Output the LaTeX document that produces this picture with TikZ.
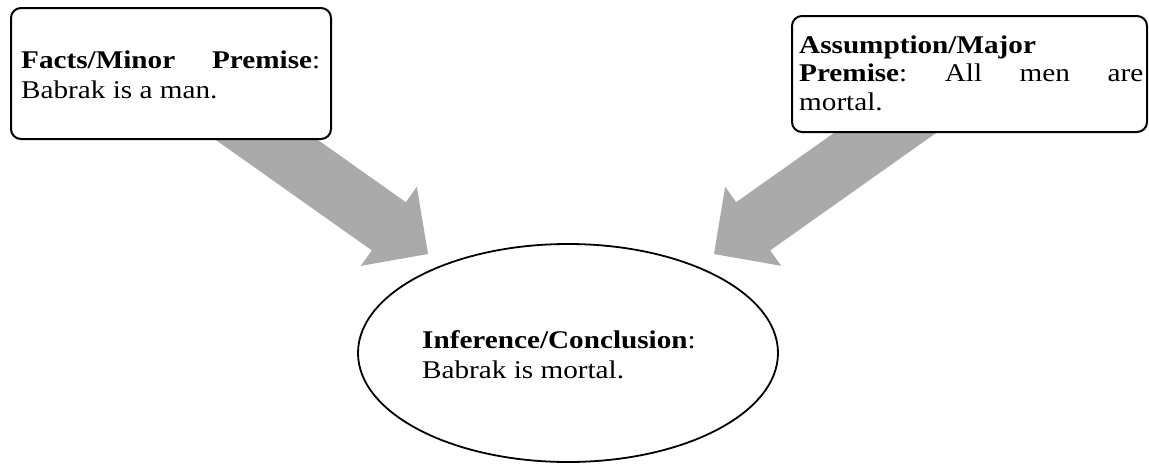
\documentclass[tikz,border=0pt]{standalone}
\usepackage{fontspec}
\setmainfont{Liberation Serif}[FakeStretch=1.145]
\usetikzlibrary{shapes.geometric,calc,backgrounds}
\definecolor{arrowgray}{RGB}{170,170,170}
\newcommand\drawblockarrow[2]{%
  \path ($(#2)!48pt!(#1)$) coordinate (hb);
  \fill[blockarrow] ($(#1)!29.5pt!90:(#2)$) -- ($(hb)!29.5pt!90:(#2)$) -- ($(hb)!48.5pt!90:(#2)$) -- (#2)
    -- ($(hb)!48.5pt!-90:(#2)$) -- ($(hb)!29.5pt!-90:(#2)$) -- ($(#1)!29.5pt!-90:(#2)$) -- cycle;}
\begin{document}
\begin{tikzpicture}[x=1pt,y=-1pt,
  box/.style={draw=black, line width=2pt, rounded corners=10pt, fill=white, inner sep=0pt},
  oval/.style={ellipse, draw=black, line width=1.8pt, fill=white, inner sep=0pt},
  txt/.style={inner sep=0pt, anchor=base west},
  blockarrow/.style={fill=arrowgray, draw=none}]
\useasboundingbox (0,0) rectangle (1149,466);
% nodes
\node[box, minimum width=320pt, minimum height=131pt] (facts) at (171,73.5) {};
\node[box, minimum width=355pt, minimum height=116pt] (assume) at (969.5,74) {};
\node[oval, minimum width=420pt, minimum height=218pt] (concl) at (568,353) {};
% texts
\node[txt, font=\fontsize{25.5}{30}\selectfont] (factstext) at (21,68)
  {\parbox[t]{299pt}{\textbf{Facts/Minor}\hfill\textbf{Premise}:\\Babrak is a man.}};
\node[txt, font=\fontsize{25.5}{28.5}\selectfont] (assumetext) at (799,53)
  {\parbox[t]{344pt}{\textbf{Assumption/Major}\\\textbf{Premise}:\hfill All\hfill men\hfill are\\mortal.}};
\node[txt, font=\fontsize{25.5}{30}\selectfont] (concltext) at (422,348)
  {\parbox[t]{300pt}{\textbf{Inference/Conclusion}:\\Babrak is mortal.}};
% block arrows behind the boxes
\begin{scope}[on background layer]
  \coordinate (tailL) at (209.1,99.1);
  \coordinate (tipL) at (428,254);
  \coordinate (tailR) at (932.9,99.1);
  \coordinate (tipR) at (714,254);
  \drawblockarrow{tailL}{tipL}
  \drawblockarrow{tailR}{tipR}
\end{scope}
\end{tikzpicture}
\end{document}
